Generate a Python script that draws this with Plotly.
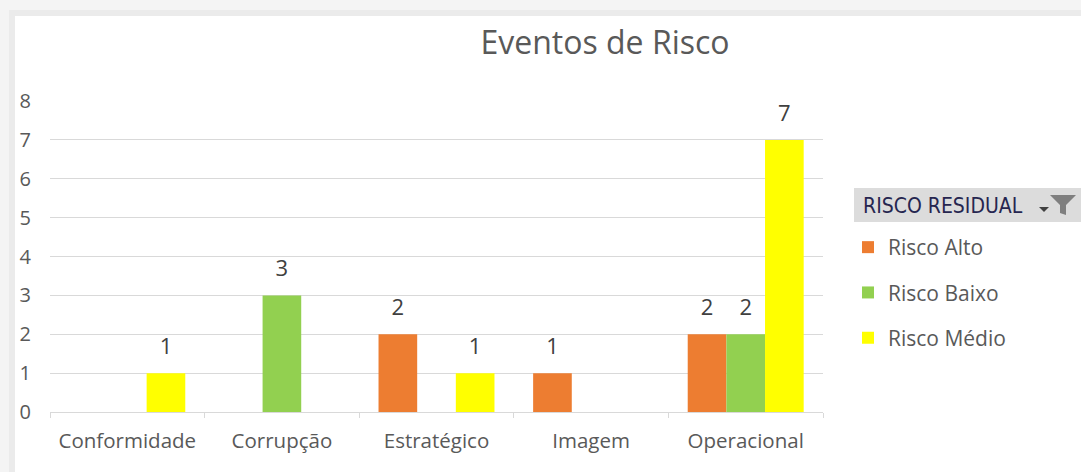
import plotly.graph_objects as go

categories = ["Conformidade", "Corrupção", "Estratégico", "Imagem", "Operacional"]
risco_alto = [None, None, 2, 1, 2]
risco_baixo = [None, 3, None, None, 2]
risco_medio = [1, None, 1, None, 7]

series = [
    ("Risco Alto", risco_alto, "#ED7D31"),
    ("Risco Baixo", risco_baixo, "#92D050"),
    ("Risco Médio", risco_medio, "#FFFF00"),
]

FW, FH = 1081, 472
L, R, T, B = 50, 258, 101, 60
W, H = FW - L - R, FH - T - B


def px_x(p):
    return (p - L) / W


def px_y(p):
    return (FH - B - p) / H


fig = go.Figure()
for i, (name, vals, color) in enumerate(series):
    fig.add_trace(go.Bar(
        x=categories, y=vals, name=name, legendgroup=f"g{i}",
        marker=dict(color=color, line=dict(width=0)),
        texttemplate="<span style='font-size:22px'>%{y}</span><br>\u00a0",
        textposition="outside", cliponaxis=False,
        textfont=dict(family="Open Sans", size=10, color="#404040"),
    ))

shapes = [
    # window shadow
    dict(type="rect", xref="paper", yref="paper", x0=px_x(0), x1=px_x(FW), y0=px_y(0), y1=px_y(16),
         fillcolor="#f4f4f4", line=dict(width=0), layer="below"),
    dict(type="rect", xref="paper", yref="paper", x0=px_x(0), x1=px_x(15), y0=px_y(0), y1=px_y(FH),
         fillcolor="#f4f4f4", line=dict(width=0), layer="below"),
    dict(type="rect", xref="paper", yref="paper", x0=px_x(9), x1=px_x(FW), y0=px_y(10), y1=px_y(16),
         fillcolor="#ebebeb", line=dict(width=0), layer="below"),
    dict(type="rect", xref="paper", yref="paper", x0=px_x(9), x1=px_x(15), y0=px_y(10), y1=px_y(FH),
         fillcolor="#ebebeb", line=dict(width=0), layer="below"),
    # legend header box
    dict(type="rect", xref="paper", yref="paper", x0=px_x(854), x1=px_x(FW + 5), y0=px_y(222), y1=px_y(188),
         fillcolor="#dcdcdc", line=dict(width=0)),
    # filter funnel
    dict(type="path", xref="paper", yref="paper", fillcolor="#7f7f7f", line=dict(width=0),
         path=f"M{px_x(1050)},{px_y(195)} L{px_x(1076)},{px_y(195)} L{px_x(1066)},{px_y(205)} "
              f"L{px_x(1066)},{px_y(215)} L{px_x(1060)},{px_y(213)} L{px_x(1060)},{px_y(205)} Z"),
    dict(type="path", xref="paper", yref="paper", fillcolor="#404040", line=dict(width=0),
         path=f"M{px_x(1039)},{px_y(207)} L{px_x(1049)},{px_y(207)} L{px_x(1044)},{px_y(212)} Z"),
]

fig.update_layout(
    width=FW, height=FH,
    margin=dict(l=L, r=R, t=T, b=B),
    paper_bgcolor="white", plot_bgcolor="rgba(0,0,0,0)",
    barmode="group", bargap=0.25, bargroupgap=0,
    font=dict(family="Open Sans", color="#595959"),
    title=dict(text="Eventos de Risco", x=px_x(605), xref="paper", xanchor="center",
               y=1 - 43 / FH, yanchor="middle", font=dict(size=32, color="#595959")),
    xaxis=dict(showline=True, linecolor="#d9d9d9", linewidth=1, ticks="outside", tickson="boundaries",
               ticklen=5, tickcolor="#d9d9d9", ticklabelstandoff=10,
               tickfont=dict(size=20.5, color="#595959"), showgrid=False),
    yaxis=dict(range=[0, 8], dtick=1, showgrid=True, gridcolor="#d9d9d9", gridwidth=1, zeroline=False,
               showline=False, ticks="", ticklabelstandoff=18, tickfont=dict(size=20, color="#595959")),
    legend=dict(x=px_x(848), y=px_y(227), xanchor="left", yanchor="top", tracegroupgap=15,
                font=dict(size=21, color="#595959"), bgcolor="rgba(0,0,0,0)"),
    shapes=shapes,
    annotations=[dict(text="RISCO RESIDUAL", xref="paper", yref="paper", x=px_x(861), y=px_y(206),
                      xanchor="left", yanchor="middle", showarrow=False,
                      font=dict(family="DejaVu Sans Condensed, Liberation Sans Narrow, Liberation Sans",
                                size=21, color="#262650"))],
)

fig.write_html("out.html", config={"displayModeBar": False},
               post_script="document.body.style.margin = '0';")
